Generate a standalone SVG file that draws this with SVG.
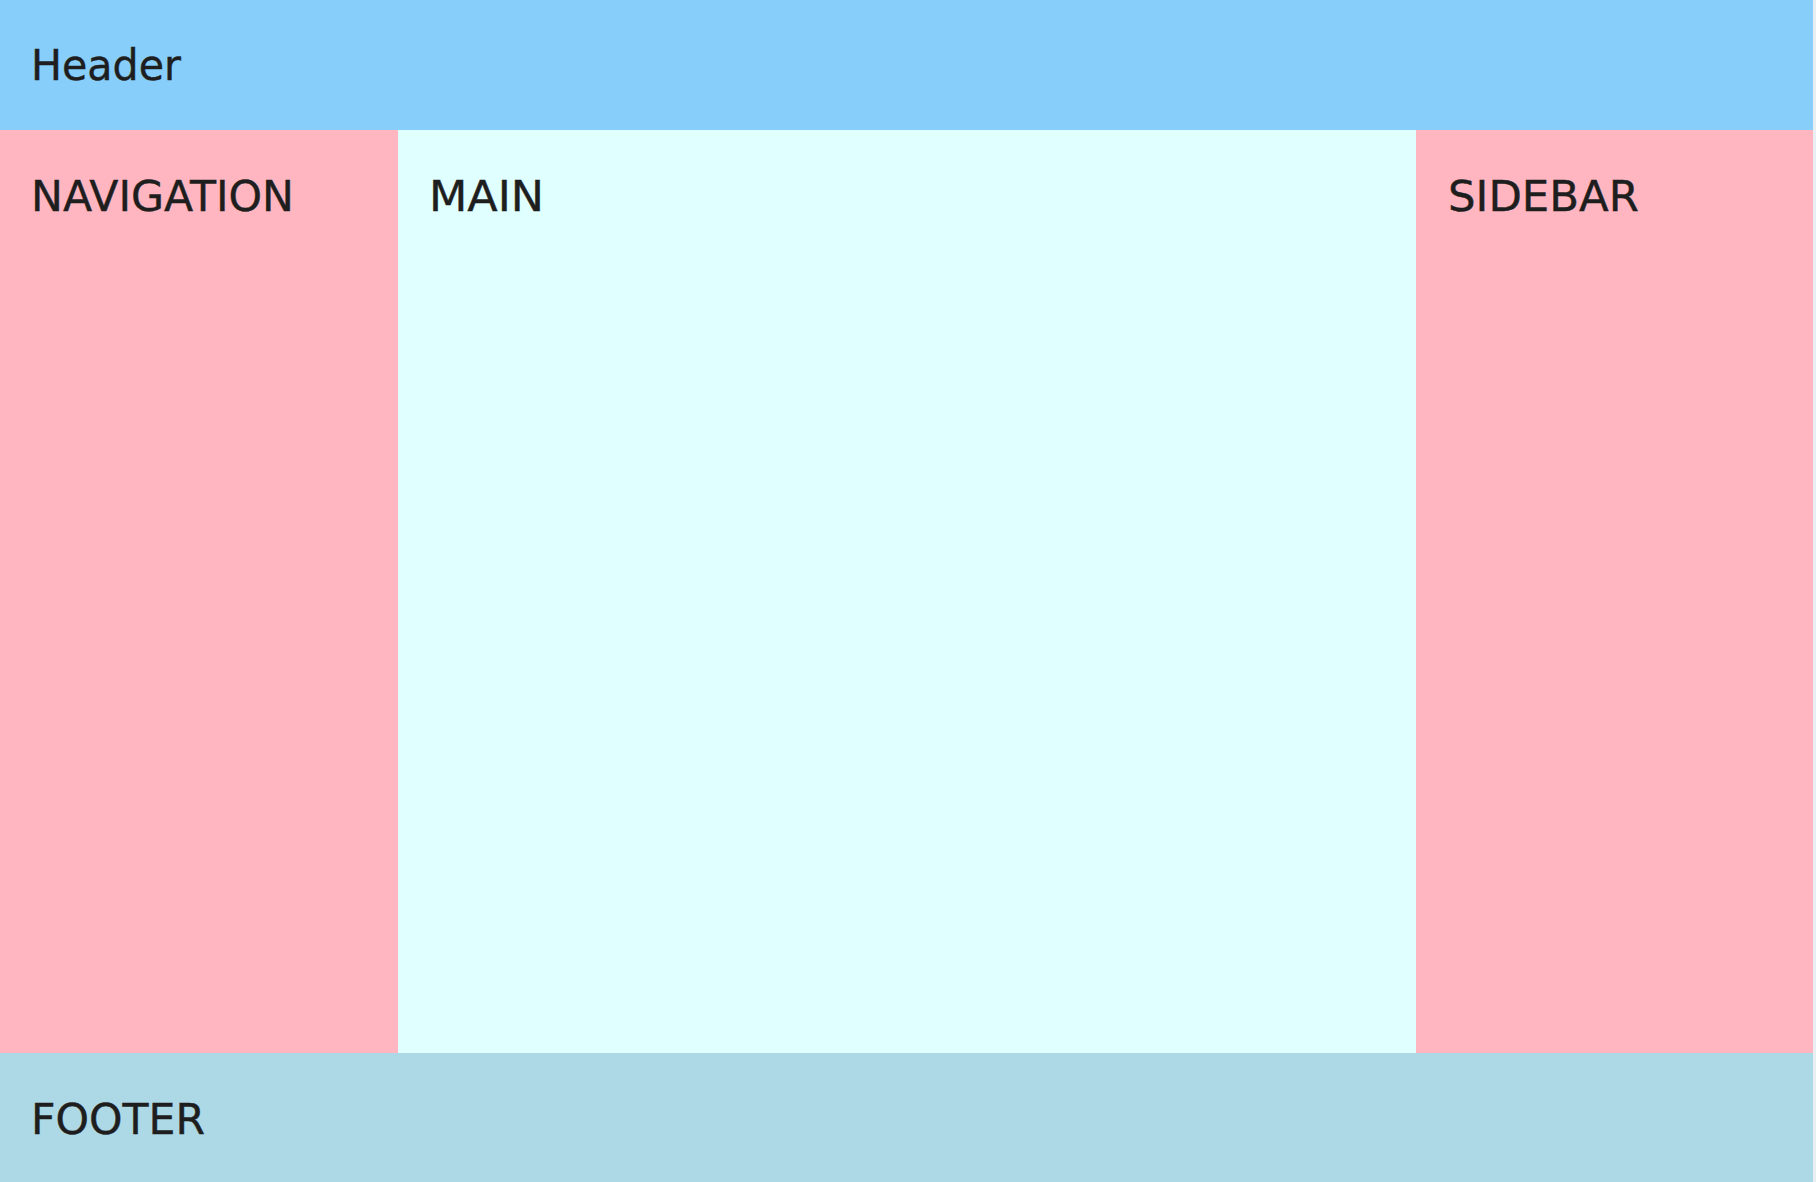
<svg xmlns="http://www.w3.org/2000/svg" width="1816" height="1182" viewBox="0 0 1816 1182">
<style>
.lbl{font-family:"DejaVu Sans","Liberation Sans",sans-serif;font-size:42px;fill:#1e1e1e;stroke:#1e1e1e;stroke-width:0.4;}
</style>
<rect x="0" y="0" width="1816" height="1182" fill="#e8eef2"/>
<g id="header"><rect x="0" y="0" width="1813" height="130" fill="#87CEFA"/><text class="lbl" x="31" y="80" textLength="150" lengthAdjust="spacingAndGlyphs">Header</text></g>
<g id="navigation"><rect x="0" y="130" width="398" height="923" fill="#FFB6C1"/><text class="lbl" x="31" y="211" textLength="263" lengthAdjust="spacingAndGlyphs">NAVIGATION</text></g>
<g id="main"><rect x="398" y="130" width="1018" height="923" fill="#E0FFFF"/><text class="lbl" x="429" y="211" textLength="115" lengthAdjust="spacingAndGlyphs">MAIN</text></g>
<g id="sidebar"><rect x="1416" y="130" width="397" height="923" fill="#FFB6C1"/><text class="lbl" x="1448" y="211" textLength="191" lengthAdjust="spacingAndGlyphs">SIDEBAR</text></g>
<g id="footer"><rect x="0" y="1053" width="1813" height="129" fill="#ADD8E6"/><text class="lbl" x="31" y="1134" textLength="174" lengthAdjust="spacingAndGlyphs">FOOTER</text></g>
<g id="connectors"/>
</svg>
